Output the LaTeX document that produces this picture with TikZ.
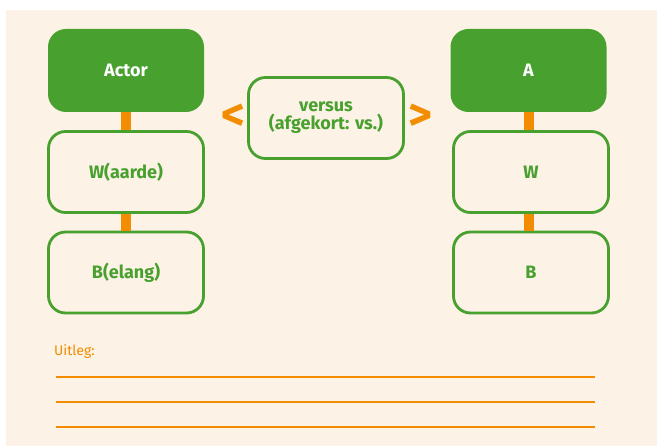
\documentclass[tikz,border=0pt]{standalone}
\usepackage{fontspec}
\setmainfont{Fira Sans}
\definecolor{bg}{HTML}{FCF2E5}
\definecolor{grn}{HTML}{48A02F}
\definecolor{org}{HTML}{F28C00}
\begin{document}
\begin{tikzpicture}[x=1pt,y=-1pt,
  darkbox/.style={fill=grn,rounded corners=18pt,minimum width=156pt,minimum height=83pt,text=white,font=\fontsize{18}{20}\selectfont\bfseries,inner sep=0pt},
  litebox/.style={draw=grn,line width=2.8pt,rounded corners=17pt,minimum width=155pt,minimum height=81pt,text=grn,font=\fontsize{18}{18}\selectfont\bfseries,align=center,inner sep=0pt},
  link/.style={draw=org,line width=10pt},
  rule/.style={draw=org,line width=1.3pt},
  cmp/.style={text=org,font=\fontsize{46}{46}\selectfont\bfseries,inner sep=0pt}]
\useasboundingbox (0,0) rectangle (657,446);
\fill[bg] (6,10) rectangle (657,446);
% left column
\node[darkbox] (actor) at (126,70.5) {Actor};
\node[litebox] (waarde) at (126,172) {W(aarde)};
\node[litebox] (belang) at (126,272.5) {B(elang)};
\draw[link] (actor.south) -- (waarde.north);
\draw[link] (waarde.south) -- (belang.north);
% right column
\node[darkbox] (a) at (528.5,70.5) {A};
\node[litebox] (w) at (531,172) {W};
\node[litebox] (b) at (531,272.5) {B};
\draw[link] (a.south) -- (a.south |- w.north);
\draw[link] (a.south |- w.south) -- (a.south |- b.north);
% middle
\node[litebox] (vs) at (326,118) {versus\\(afgekort: vs.)};
\node[cmp] (lt) at (233,117) {<};
\node[cmp] (gt) at (420,117) {>};
% uitleg
\node[anchor=west,text=org,font=\fontsize{14}{16}\selectfont,inner sep=0pt] (uitleg) at (54,352) {Uitleg:};
\coordinate (l1a) at (56,377); \coordinate (l1b) at (595,377);
\coordinate (l2a) at (56,402); \coordinate (l2b) at (595,402);
\coordinate (l3a) at (56,427); \coordinate (l3b) at (595,427);
\draw[rule] (l1a) -- (l1b);
\draw[rule] (l2a) -- (l2b);
\draw[rule] (l3a) -- (l3b);
\end{tikzpicture}
\end{document}
